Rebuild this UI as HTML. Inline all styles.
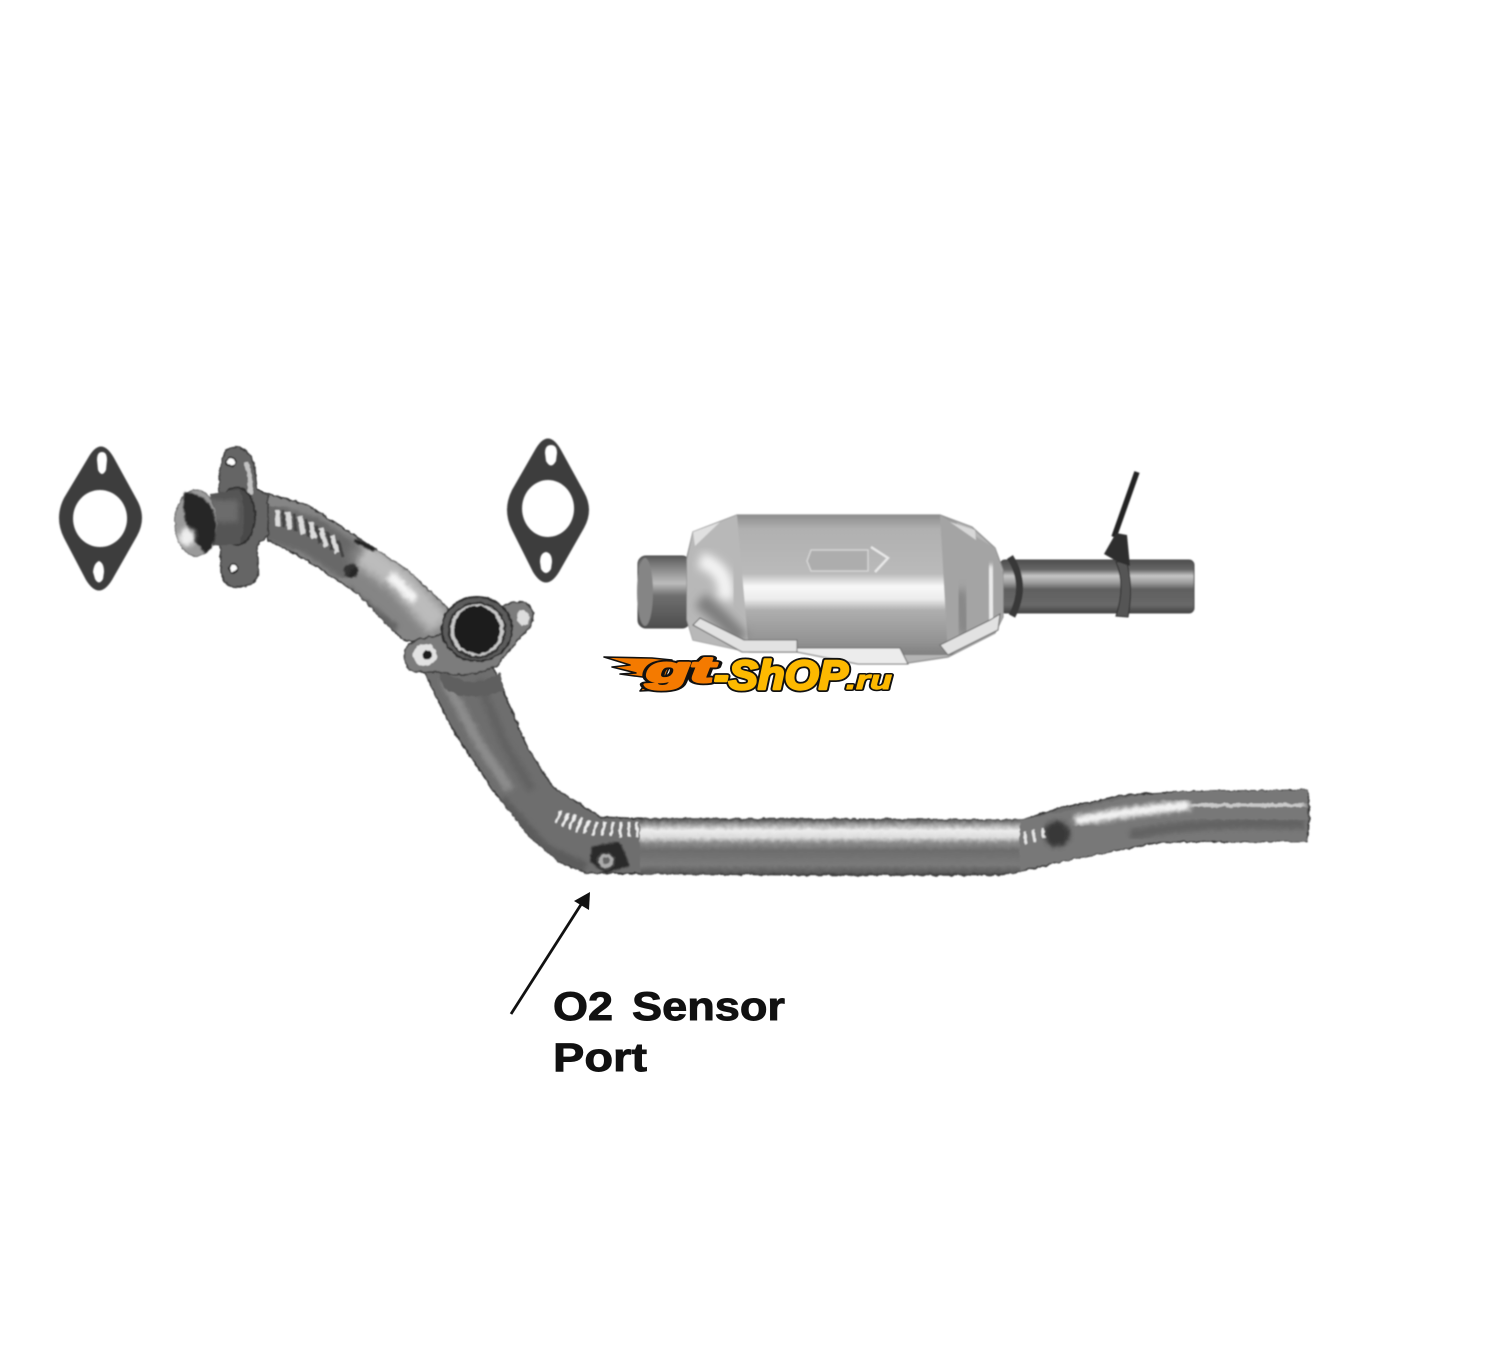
<!DOCTYPE html>
<html><head><meta charset="utf-8"><style>
html,body{margin:0;padding:0;background:#fff;width:1500px;height:1350px;overflow:hidden}
svg{display:block}
</style></head><body>
<svg width="1500" height="1350" viewBox="0 0 1500 1350" xmlns="http://www.w3.org/2000/svg">
<defs>
<filter id="b1" x="-20%" y="-20%" width="140%" height="140%"><feGaussianBlur stdDeviation=".8"/></filter>
<filter id="b2" x="-30%" y="-30%" width="160%" height="160%"><feGaussianBlur stdDeviation="2.5"/></filter>
<filter id="b4" x="-30%" y="-30%" width="160%" height="160%"><feGaussianBlur stdDeviation="4.5"/></filter>
<filter id="rough" x="-5%" y="-5%" width="110%" height="110%">
<feTurbulence type="fractalNoise" baseFrequency=".18" numOctaves="2" seed="4" result="n"/>
<feDisplacementMap in="SourceGraphic" in2="n" scale="3.5" xChannelSelector="R" yChannelSelector="G"/>
<feGaussianBlur stdDeviation=".7"/>
</filter>
<linearGradient id="hp" x1="0" y1="0" x2="0" y2="1">
<stop offset="0" stop-color="#4a4a4a"/><stop offset=".07" stop-color="#8a8a8a"/><stop offset=".2" stop-color="#ededed"/><stop offset=".32" stop-color="#dcdcdc"/><stop offset=".42" stop-color="#8c8c8c"/><stop offset=".55" stop-color="#6c6c6c"/><stop offset=".8" stop-color="#7a7a7a"/><stop offset=".94" stop-color="#5c5c5c"/><stop offset="1" stop-color="#2e2e2e"/>
</linearGradient>
<linearGradient id="stub" x1="0" y1="0" x2="0" y2="1">
<stop offset="0" stop-color="#4d4d4d"/><stop offset=".18" stop-color="#666"/><stop offset=".3" stop-color="#c6c6c6"/><stop offset=".42" stop-color="#a0a0a0"/><stop offset=".55" stop-color="#606060"/><stop offset=".85" stop-color="#686868"/><stop offset="1" stop-color="#444"/>
</linearGradient>
<linearGradient id="body" x1="0" y1="0" x2="0" y2="1">
<stop offset="0" stop-color="#8e8e8e"/><stop offset=".1" stop-color="#b0b0b0"/><stop offset=".42" stop-color="#bababa"/><stop offset=".51" stop-color="#f8f8f8"/><stop offset=".6" stop-color="#ececec"/><stop offset=".68" stop-color="#aeaeae"/><stop offset=".9" stop-color="#939393"/><stop offset="1" stop-color="#808080"/>
</linearGradient>
<linearGradient id="lstub" x1="0" y1="0" x2="0" y2="1">
<stop offset="0" stop-color="#5a5a5a"/><stop offset=".2" stop-color="#8e8e8e"/><stop offset=".38" stop-color="#bcbcbc"/><stop offset=".55" stop-color="#6e6e6e"/><stop offset="1" stop-color="#4e4e4e"/>
</linearGradient>
<clipPath id="pc"><path d="M418,660 L453,730 493,790 530,837 560,862 587,873 820,875 1003,875 1077,858 1160,842 1307,841 Q1311,815 1307,790 L1177,792 1127,795 1060,808 1023,820 820,819 647,819 600,817 553,787 527,747 490,660 Z"/></clipPath>
<clipPath id="uc"><path d="M255,490 L307,505 357,537 407,570 450,610 445,650 403,640 357,593 307,560 268,540 Z"/></clipPath>
<clipPath id="bc"><path d="M737,515 L940,515 972,527 995,548 1003,570 1003,617 995,633 948,657 908,663 797,652 749,652 693,640 687,620 687,557 693,532 Z"/></clipPath>
</defs>

<!-- gaskets -->
<g fill="#3e3e3e" fill-rule="evenodd" filter="url(#b1)">
<path d="M88,458 Q101,435 114,458 L137,500 Q147,518 137,536 L112,580 Q99,601 86,580 L64,538 Q54,518 64,498 Z
M100,490 A27,28.5 0 1 0 100.1,547 A27,28.5 0 1 0 100,490 Z
M102,452 Q107,452 107,460 L106,470 Q102,478 98,470 L97,460 Q97,452 102,452 Z
M99,561 Q104,563 104,572 L103,579 Q99,586 95,579 L93,572 Q94,563 99,561 Z"/>
<path d="M535,450 Q548,427 561,450 L584,492 Q594,510 584,528 L559,572 Q546,593 533,572 L512,530 Q502,510 512,490 Z
M548,480 A26,28.5 0 1 0 548.1,537 A26,28.5 0 1 0 548,480 Z
M551,445 Q557,445 557,453 L556,461 Q551,470 546,461 L545,453 Q545,445 551,445 Z
M546,552 Q552,553 552,562 L551,569 Q546,577 541,569 L540,562 Q540,553 546,552 Z"/>
</g>

<!-- lower pipe -->
<g filter="url(#rough)">
<path d="M418,660 L453,730 493,790 530,837 560,862 587,873 820,875 1003,875 1077,858 1160,842 1307,841 Q1311,815 1307,790 L1177,792 1127,795 1060,808 1023,820 820,819 647,819 600,817 553,787 527,747 490,660 Z" fill="#6e6e6e" stroke="#333" stroke-width="1.6"/>
<g clip-path="url(#pc)">
<rect x="640" y="819" width="385" height="57" fill="url(#hp)"/>
<path d="M1020,820 L1070,810 1130,797 1177,792 L1307,790 V841 H1160 L1077,858 1020,870 Z" fill="#787878"/>
<path d="M1075,821 Q1130,811 1190,805" stroke="#f4f4f4" stroke-width="10" fill="none" filter="url(#b2)"/>
<path d="M1190,805 Q1250,803 1305,806" stroke="#cfcfcf" stroke-width="9" fill="none" filter="url(#b2)"/>
<path d="M1130,835 Q1200,820 1305,824" stroke="#636363" stroke-width="11" fill="none" filter="url(#b2)"/>
<circle cx="1057" cy="834" r="13" fill="#383838" filter="url(#b2)"/>
<path d="M1024,832 l2,12 M1033,830 l2,12 M1042,828 l2,10" stroke="#e6e6e6" stroke-width="3"/>
<path d="M445,680 L480,745 510,790" stroke="#8c8c8c" stroke-width="10" fill="none" filter="url(#b2)"/>
<path d="M478,680 L505,745 532,790" stroke="#636363" stroke-width="10" fill="none" filter="url(#b2)"/>
<path d="M500,800 L545,850 585,868" stroke="#5c5c5c" stroke-width="12" fill="none" filter="url(#b2)"/>
</g>
<g stroke="#efefef" stroke-width="2.6" fill="none">
<path d="M561,811 l-5,12 M568,813 l-6,13 M575,815 l-6,14 M582,818 l-6,14 M589,820 l-5,14 M597,822 l-4,14 M605,822 l-3,14 M613,822 l-2,14 M621,822 l-1,15 M629,822 l0,15 M637,822 l0,15"/>
</g>
<path d="M592,846 L620,842 L630,866 L605,873 L590,862 Z" fill="#2a2a2a" filter="url(#b1)"/>
<circle cx="606" cy="861" r="8" fill="#ababab" stroke="#444" stroke-width="2"/>
<circle cx="606" cy="861" r="3.5" fill="#666"/>
</g>

<!-- upper pipe -->
<g filter="url(#rough)">
<path d="M255,490 L307,505 357,537 407,570 450,610 445,650 403,640 357,593 307,560 268,540 Z" fill="#858585" stroke="#333" stroke-width="1.5"/>
<g clip-path="url(#uc)">
<path d="M355,548 L400,580 440,625" stroke="#bcbcbc" stroke-width="26" fill="none" filter="url(#b4)"/>
<path d="M390,575 L415,600" stroke="#f6f6f6" stroke-width="10" fill="none" filter="url(#b2)"/>
<path d="M345,590 L395,630" stroke="#626262" stroke-width="11" fill="none" filter="url(#b2)"/>
<circle cx="351" cy="571" r="7" fill="#262626" filter="url(#b1)"/>
<path d="M355,540 L375,550" stroke="#222" stroke-width="5" filter="url(#b1)"/>
<path d="M260,520 L310,535 355,565" stroke="#444" stroke-width="38" fill="none" stroke-opacity=".45" filter="url(#b2)"/>
</g>
<g stroke="#dcdcdc" stroke-width="5" fill="none">
<path d="M277,510 l1,16 M288,512 l2,17 M300,516 l3,18 M311,522 l3,17 M321,528 l5,18 M332,535 l5,18"/>
</g>
<g stroke="#424242" stroke-width="3" fill="none">
<path d="M283,510 l1,17 M294,514 l2,18 M306,519 l3,18 M316,525 l4,18 M327,532 l5,18 M338,540 l5,17"/>
</g>
</g>

<!-- first flange -->
<g filter="url(#rough)">
<path d="M222,462 Q224,447 235,447 Q252,448 255,470 L257,490 L268,495 L268,535 L257,545 L258,575 Q256,586 240,587 Q224,588 221,572 L219,470 Z" fill="#656565" stroke="#3a3a3a" stroke-width="1.5"/>
<path d="M246,462 Q252,480 250,495" stroke="#c4c4c4" stroke-width="5" fill="none"/>
<circle cx="231" cy="462" r="4.6" fill="#fff" stroke="#222" stroke-width="1.5"/>
<circle cx="233" cy="568" r="4.6" fill="#fff" stroke="#222" stroke-width="1.5"/>
<ellipse cx="237" cy="516" rx="18" ry="29" fill="#484848" stroke="#2e2e2e" stroke-width="2"/>
<path d="M210,494 L240,490 Q248,516 240,544 L213,546 Z" fill="#555"/>
<path d="M208,500 L238,500 V522 L208,522 Z" fill="#6c6c6c" filter="url(#b2)"/>
<ellipse cx="196" cy="523" rx="21" ry="33" fill="#9a9a9a" stroke="#666" stroke-width="1"/>
<path d="M184,492 Q214,495 216,525 Q216,548 205,553 Q180,530 184,492 Z" fill="#262626" filter="url(#b1)"/>
<ellipse cx="187" cy="537" rx="8" ry="9" fill="#eee" filter="url(#b2)"/>
</g>

<!-- second flange -->
<g filter="url(#rough)">
<path d="M436,665 Q470,695 500,672 L504,690 Q470,704 444,688 Z" fill="#5f5f5f"/>
<path d="M405,650 Q412,637 435,637 L462,625 L505,605 Q525,597 532,610 Q536,625 520,637 L498,665 Q470,680 440,672 L415,672 Q402,668 405,650 Z" fill="#7c7c7c" stroke="#3a3a3a" stroke-width="1.5"/>
<ellipse cx="523" cy="618" rx="6" ry="8" fill="#ddd"/>
<ellipse cx="425" cy="655" rx="12" ry="11" fill="#e2e2e2"/>
<circle cx="427" cy="655" r="4.5" fill="#1c1c1c"/>
<ellipse cx="477" cy="629" rx="35" ry="32" fill="#5c5c5c" stroke="#2c2c2c" stroke-width="2"/>
<ellipse cx="477" cy="630" rx="28" ry="27" fill="#c8c8c8" stroke="#333" stroke-width="2.5"/>
<ellipse cx="477" cy="630" rx="23" ry="24" fill="#1c1c1c"/>
</g>

<!-- catalytic converter -->
<g filter="url(#b1)">
<rect x="638" y="556" width="52" height="72" rx="8" fill="url(#lstub)" stroke="#444"/>
<ellipse cx="645" cy="592" rx="8" ry="34" fill="#858585"/>
<rect x="1000" y="560" width="194" height="53" rx="5" fill="url(#stub)"/>
<rect x="1000" y="560" width="194" height="53" rx="5" fill="none" stroke="#4a4a4a"/>
<path d="M1010,557 Q1028,585 1012,616" stroke="#383838" stroke-width="7" fill="none"/>
<path d="M737,515 L940,515 972,527 995,548 1003,570 1003,617 995,633 948,657 908,663 797,652 749,652 693,640 687,620 687,557 693,532 Z" fill="#b4b4b4" stroke="#8e8e8e" stroke-width="1.2"/>
<g clip-path="url(#bc)">
<rect x="737" y="515" width="220" height="140" fill="url(#body)"/>
<path d="M737,515 L693,532 687,560 687,640 749,652 Z" fill="#b8b8b8"/>
<path d="M940,515 L995,548 1003,575 1003,640 948,655 Z" fill="#a4a4a4"/>
<path d="M700,560 Q730,570 725,600" stroke="#f4f4f4" stroke-width="16" fill="none" filter="url(#b4)"/>
<path d="M700,600 Q725,620 742,640" stroke="#7e7e7e" stroke-width="16" fill="none" filter="url(#b4)"/>
<path d="M990,565 L992,625" stroke="#eee" stroke-width="9" fill="none" filter="url(#b2)"/>
<path d="M960,590 L965,635" stroke="#858585" stroke-width="14" fill="none" filter="url(#b4)"/>
</g>
<path d="M693,625 L742,652 797,652 797,640 L744,640 700,618 Z" fill="#e2e2e2" stroke="#666"/>
<path d="M797,648 L900,648 908,664 858,664 797,652 Z" fill="#ececec" stroke="#666"/>
<path d="M948,655 L998,630 1000,614 990,620 940,645 Z" fill="#e2e2e2" stroke="#666"/>
<path d="M693,532 L720,522 695,546 Z" fill="#e0e0e0"/>
<path d="M950,522 L975,530 976,540 Z" fill="#d8d8d8"/>
<path d="M811,550 L868,550 L868,571 L811,571 L807,561 Z" fill="#adadad" stroke="#d8d8d8" stroke-width="1.3"/>
<path d="M871,547 L888,558 L875,572" fill="none" stroke="#e8e8e8" stroke-width="2.4"/>
<path d="M1116,562 Q1126,585 1116,616 L1128,617 Q1134,585 1126,560 Z" fill="#555" stroke="#2c2c2c"/>
<path d="M1137,472 L1114,537" stroke="#222" stroke-width="5.5"/>
<path d="M1104,554 L1116,533 L1127,535 L1130,566 L1118,562 Z" fill="#2e2e2e"/>
</g>

<!-- logo -->
<g font-family="'Liberation Sans',sans-serif" font-weight="bold" font-style="italic" stroke-linejoin="round">
<path d="M604,657 L652,658 L672,660 L660,690 L640,691 L650,678 L620,674 L636,673 L612,667 L630,665 Z" fill="#f47a00" stroke="#111" stroke-width="1.6"/>
<text x="646" y="682" font-size="36" textLength="68" lengthAdjust="spacingAndGlyphs" fill="none" stroke="#111" stroke-width="6">gt</text>
<text x="646" y="682" font-size="36" textLength="68" lengthAdjust="spacingAndGlyphs" fill="#f47a00" stroke="#f47a00" stroke-width="2.4">gt</text>
<text x="714" y="689" font-size="41" textLength="134" lengthAdjust="spacingAndGlyphs" fill="none" stroke="#111" stroke-width="6">-ShOP</text>
<text x="714" y="689" font-size="41" textLength="134" lengthAdjust="spacingAndGlyphs" fill="#fdb900" stroke="#fdb900" stroke-width="2.4">-ShOP</text>
<text x="846" y="689" font-size="27" textLength="46" lengthAdjust="spacingAndGlyphs" fill="none" stroke="#111" stroke-width="4">.ru</text>
<text x="846" y="689" font-size="27" textLength="46" lengthAdjust="spacingAndGlyphs" fill="#fdb900" stroke="#fdb900" stroke-width="1">.ru</text>
</g>

<!-- arrow -->
<path d="M511,1014 L582,903" stroke="#111" stroke-width="2.8" fill="none"/>
<path d="M590,892 L574,901 L589,910 Z" fill="#111"/>

<!-- labels -->
<g font-family="'Liberation Sans',sans-serif" font-weight="bold" fill="#111" stroke="#111" stroke-width=".9">
<text x="553" y="1020" font-size="40" textLength="60" lengthAdjust="spacingAndGlyphs">O2</text>
<text x="632" y="1020" font-size="40" textLength="153" lengthAdjust="spacingAndGlyphs">Sensor</text>
<text x="553" y="1071" font-size="40" textLength="94" lengthAdjust="spacingAndGlyphs">Port</text>
</g>
</svg>
</body></html>
